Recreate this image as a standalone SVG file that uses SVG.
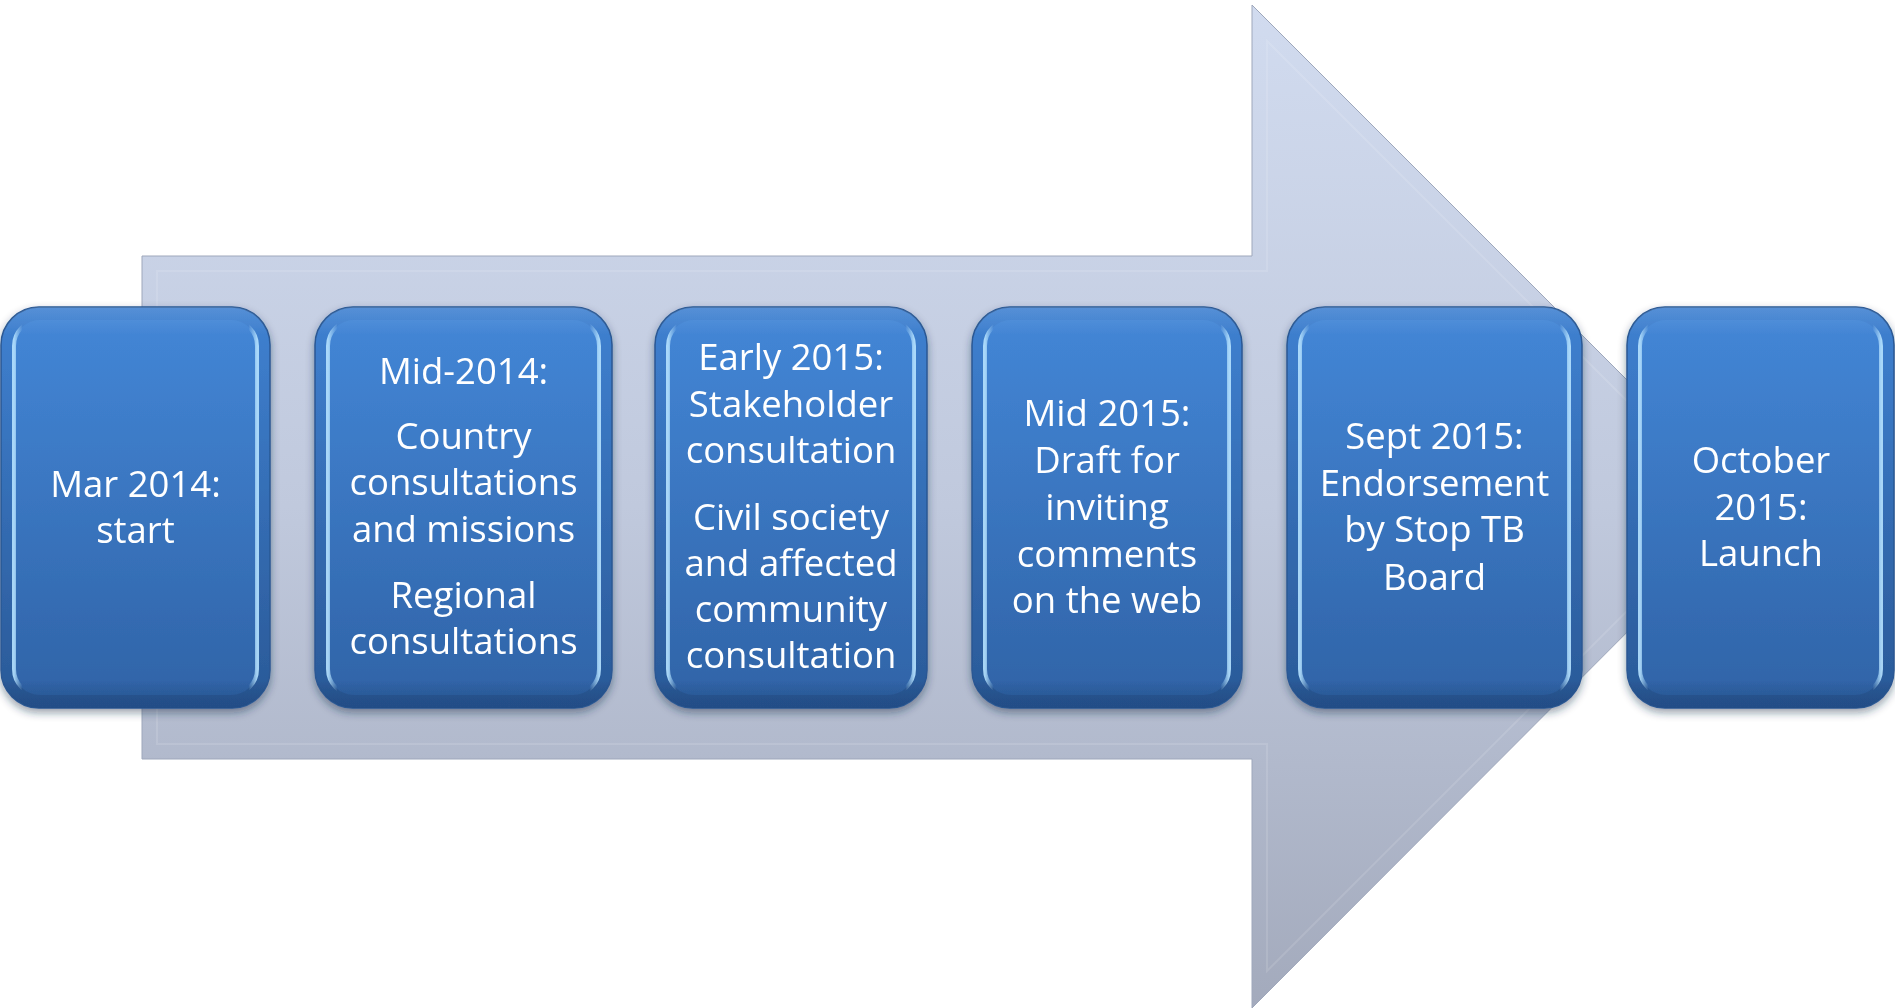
<svg xmlns="http://www.w3.org/2000/svg" width="1895" height="1008" viewBox="0 0 1895 1008">
  <defs>
    <!-- background arrow shading -->
    <linearGradient id="arrowFill" gradientUnits="userSpaceOnUse" x1="0" y1="5" x2="0" y2="1008">
      <stop offset="0" stop-color="#d1dbef"/>
      <stop offset="0.5" stop-color="#c0c9dd"/>
      <stop offset="1" stop-color="#a3aabc"/>
    </linearGradient>
    <!-- box body shading -->
    <linearGradient id="boxOuter" x1="0" y1="0" x2="0" y2="1">
      <stop offset="0" stop-color="#3f81d1"/>
      <stop offset="1" stop-color="#2a5997"/>
    </linearGradient>
    <linearGradient id="boxInner" x1="0" y1="0" x2="0" y2="1">
      <stop offset="0" stop-color="#4386d6"/>
      <stop offset="1" stop-color="#3064a8"/>
    </linearGradient>
    <!-- bright bevel along the side edges -->
    <linearGradient id="boxSides" x1="0" y1="0" x2="1" y2="0">
      <stop offset="0" stop-color="#b5e2ff" stop-opacity="0.9"/>
      <stop offset="0.035" stop-color="#b5e2ff" stop-opacity="0"/>
      <stop offset="0.965" stop-color="#b5e2ff" stop-opacity="0"/>
      <stop offset="1" stop-color="#b5e2ff" stop-opacity="0.9"/>
    </linearGradient>
    <linearGradient id="boxTop" x1="0" y1="0" x2="0" y2="1">
      <stop offset="0" stop-color="#ffffff" stop-opacity="0.12"/>
      <stop offset="0.07" stop-color="#ffffff" stop-opacity="0"/>
      <stop offset="0.93" stop-color="#000000" stop-opacity="0"/>
      <stop offset="1" stop-color="#0a2450" stop-opacity="0.22"/>
    </linearGradient>
    <filter id="boxShadow" x="-10%" y="-10%" width="120%" height="125%">
      <feDropShadow dx="0" dy="4" stdDeviation="4" flood-color="#1a2a45" flood-opacity="0.45"/>
    </filter>
  </defs>
  <style>
    .outer { fill: url(#boxOuter); stroke: #2a5894; stroke-width: 1.5; }
    .inner { fill: url(#boxInner); stroke: url(#boxSides); stroke-width: 4; }
    .gloss { fill: url(#boxTop); }
    .label { font-family: "Open Sans", "Liberation Sans", sans-serif; font-size: 36.5px; fill: #ffffff; text-anchor: middle; }
  </style>

  <rect width="1895" height="1008" fill="#ffffff"/>

  <!-- big background arrow -->
  <g id="arrow">
    <polygon points="142,256 1252,256 1252,5 1753,506 1252,1008 1252,759 142,759" fill="url(#arrowFill)" stroke="#9ea7bb" stroke-width="1"/>
    <polygon points="157,271 1267,271 1267,41 1732,506 1267,971 1267,744 157,744" fill="none" stroke="#ffffff" stroke-opacity="0.12" stroke-width="2"/>
  </g>

  <g id="connectors"></g>

  <g id="box1" filter="url(#boxShadow)">
    <rect class="outer" x="1" y="307" width="269" height="401" rx="38"/>
    <rect class="inner" x="14" y="320" width="243" height="375" rx="26"/>
    <rect class="gloss" x="1" y="307" width="269" height="401" rx="38"/>
    <text class="label" x="135.5" y="497">Mar 2014:</text>
    <text class="label" x="135.5" y="543">start</text>
  </g>

  <g id="box2" filter="url(#boxShadow)">
    <rect class="outer" x="315" y="307" width="297" height="401" rx="38"/>
    <rect class="inner" x="328" y="320" width="271" height="375" rx="26"/>
    <rect class="gloss" x="315" y="307" width="297" height="401" rx="38"/>
    <text class="label" x="463.5" y="384">Mid-2014:</text>
    <text class="label" x="463.5" y="449">Country</text>
    <text class="label" x="463.5" y="495">consultations</text>
    <text class="label" x="463.5" y="542">and missions</text>
    <text class="label" x="463.5" y="608">Regional</text>
    <text class="label" x="463.5" y="654">consultations</text>
  </g>

  <g id="box3" filter="url(#boxShadow)">
    <rect class="outer" x="655" y="307" width="272" height="401" rx="38"/>
    <rect class="inner" x="668" y="320" width="246" height="375" rx="26"/>
    <rect class="gloss" x="655" y="307" width="272" height="401" rx="38"/>
    <text class="label" x="791" y="370">Early 2015:</text>
    <text class="label" x="791" y="417">Stakeholder</text>
    <text class="label" x="791" y="463">consultation</text>
    <text class="label" x="791" y="530">Civil society</text>
    <text class="label" x="791" y="576">and affected</text>
    <text class="label" x="791" y="622">community</text>
    <text class="label" x="791" y="668">consultation</text>
  </g>

  <g id="box4" filter="url(#boxShadow)">
    <rect class="outer" x="972" y="307" width="270" height="401" rx="38"/>
    <rect class="inner" x="985" y="320" width="244" height="375" rx="26"/>
    <rect class="gloss" x="972" y="307" width="270" height="401" rx="38"/>
    <text class="label" x="1107" y="426">Mid 2015:</text>
    <text class="label" x="1107" y="473">Draft for</text>
    <text class="label" x="1107" y="520">inviting</text>
    <text class="label" x="1107" y="567">comments</text>
    <text class="label" x="1107" y="613">on the web</text>
  </g>

  <g id="box5" filter="url(#boxShadow)">
    <rect class="outer" x="1287" y="307" width="295" height="401" rx="38"/>
    <rect class="inner" x="1300" y="320" width="269" height="375" rx="26"/>
    <rect class="gloss" x="1287" y="307" width="295" height="401" rx="38"/>
    <text class="label" x="1434.5" y="449">Sept 2015:</text>
    <text class="label" x="1434.5" y="496">Endorsement</text>
    <text class="label" x="1434.5" y="542">by Stop TB</text>
    <text class="label" x="1434.5" y="590">Board</text>
  </g>

  <g id="box6" filter="url(#boxShadow)">
    <rect class="outer" x="1627" y="307" width="267" height="401" rx="38"/>
    <rect class="inner" x="1640" y="320" width="241" height="375" rx="26"/>
    <rect class="gloss" x="1627" y="307" width="267" height="401" rx="38"/>
    <text class="label" x="1761" y="473">October</text>
    <text class="label" x="1761" y="520">2015:</text>
    <text class="label" x="1761" y="566">Launch</text>
  </g>
</svg>
